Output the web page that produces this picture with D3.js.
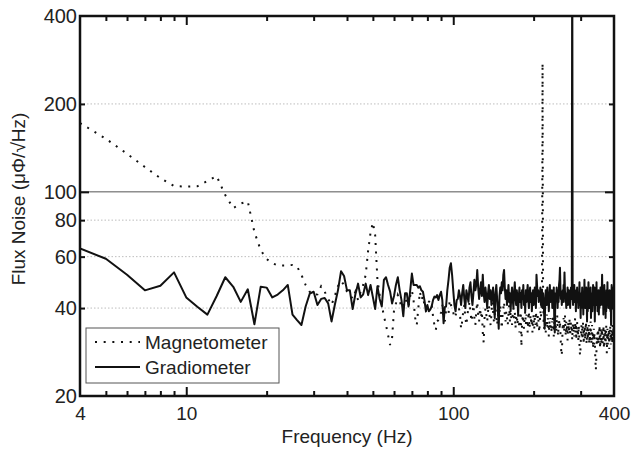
<!DOCTYPE html>
<html><head><meta charset="utf-8">
<script src="https://cdn.jsdelivr.net/npm/d3@7"></script>
<style>body{margin:0;background:#fff}svg{display:block}text{font-family:"Liberation Sans",Arial,sans-serif;fill:#222}</style>
</head><body><div id="chart"></div>
<script>
// frequency grid (Hz), 1 Hz resolution
const freqs = d3.range(4, 401);
// Magnetometer flux noise (μΦ/√Hz), one value per frequency 4..400
const magnetometer = [
172,152,135,121.6,111.4,104.7,104.2,104.5,108.9,113.2,
97.5,88,91.2,92.7,72.8,63.2,58.9,57,56,56,
56,56.2,55.5,52,48,45.5,44.3,44.6,47.5,45.5,
43,41,44,47.5,49.5,48,45.5,44.6,43,45.5,
42.6,45.5,48,52,63,72.5,78.5,71,50,44.6,
41,37.5,35,32.3,29.9,31.6,39.4,41.5,44.3,42.6,
40,41,43,42,40.5,44,46,42.6,37,35,
40,45.5,42.6,44,41,39.4,40.5,42,42.6,41,
37.5,35,33.6,36,36.4,37,38.7,41,37,36,
39.4,39,38.3,42.6,41,40,38.7,37,37.8,38.7,
39.4,
40,38,34,36,39,41,37,35,38,40,
42,39,36,38,41,37,35,39,42,38,
36,40,37,39,33,30.5,37,40,38,36,
39,41,37,35,38,42,39,36,38,40,
37,35,38,36,39,41,37,34,38,40,
42,38,36,39,37,35,38,41,36,39,
37,35,38,40,36,39,34,37,38,35,
38,36,33,37,39,29.5,35,38,36,34,
37,39,35,38,36,33,37,39,34,36,
38,35,37,33,36,38,34,37,35,39,
36,34,37,38,35,33,36,39,37,40,
48,276,45,36,34,37,35,33,36,38,
34,37,35,32,36,34,37,35,33,36,
34,38,35,32,36,34,37,35,33,36,
38,34,32,35,37,34,36,33,30,28,
27.5,31,35,34,37,33,35,38,34,32,
36,33,35,31,34,36,33,35,37,32,
34,36,33,35,31,34,36,33,35,32,
34,37,33,35,31,34,36,32,34,31,
35,33,30,28,27.5,30,33,35,32,34,
31,36,33,30,34,32,35,31,34,36,
32,30,33,35,31,34,32,35,30,33,
31,34,36,32,30,33,35,31,33,29,
32,34,30,33,31,28,26,24.5,26,29,
32,30,33,31,34,32,30,33,35,31,
29,32,34,30,33,31,34,32,30,33,
35,31,29,32,34,31,33,30,32,35,
31,28,32,34,30,33,31,34,32,29,
33,31,35,32,30,33,31,34,32,30,
35,33,31,34,32,36
];
// Gradiometer flux noise (μΦ/√Hz), one value per frequency 4..400
const gradiometer = [
64,59,52,46,47.7,53,43.5,40.4,38,44,
51,47.3,42,46.4,35.2,47.3,47,43.5,44.5,46,
48,38,36.4,35,40.5,44.8,45.5,41,43,43.3,
41.5,36,41,46,53.5,51.5,46,46,39.7,44.6,
48.5,43.5,44.6,48.5,44.3,48,43.6,39.7,47.5,43,
40.5,50,51,48,45.6,41.5,44,48,51,46,
42.6,37.5,45,45,40.5,46,52.5,48,48,48,
47,47.5,46,45.5,42.6,39,41,39,39.5,40.5,
42.6,43.8,43.5,44.3,42.6,44.3,45.5,42.6,35.5,40.3,
40.5,46,50,55,57,52,46,41,39,42.6,
43,
46,44,41,45,48,43,40,46,44,42,
47,49,44,41,45,50,46,48,54,47,
43,46,49,44,52,45,42,47,44,40,
45,48,43,46,41,44,47,42,37,45,
48,43,39,34,44,47,45,49,46,52,
54,47,43,46,41,44,48,42,45,39,
44,47,43,40,45,49,44,41,46,43,
38,44,47,42,45,40,46,43,48,41,
44,39,46,42,45,48,43,40,44,47,
42,45,39,44,46,41,44,47,43,40,
52,48,44,46,42,45,43,47,41,44,
46,40,45,42,38,34,42,46,44,41,
47,43,45,39,44,48,42,45,43,46,
40,44,41,47,36,33,41,45,43,47,
44,40,46,42,48,50,55,47,43,45,
41,44,46,42,48,45,53,46,42,44,
40,45,43,47,41,44,46,42,45,40,
44,47,43,45,1000,44,41,46,43,48,
42,45,44,39,46,43,47,42,44,40,
45,43,49,41,44,37,45,40,43,47,
41,44,38,45,42,50,43,40,45,42,
47,44,36,45,39,43,49,42,44,40,
45,43,47,37,44,42,45,39,43,48,
41,44,42,47,36,44,43,46,41,49,
42,44,39,45,43,46,38,44,40,45,
43,47,41,44,42,46,52,44,41,45,
38,44,40,48,43,41,45,37,44,39,
46,43,41,49,42,44,40,45,43,41,
46,42,44,39,43,35,42,48,41,44,
43,40,47,42,44,43
];
const xMinorTicks = [5,6,7,8,9,20,30,40,50,60,70,80,90,200,300];
const xMajorTicks = [10,100];
const xTickLabels = [4,10,100,400];
const yMinorTicks = [40,60,80,200];
const yMajorTicks = [100];
const yTickLabels = [20,40,60,80,100,200,400];
const dottedGrid = [40,60,80,200];
const solidGrid = [100];
const seriesNames = ["Magnetometer","Gradiometer"];

const W = 631, H = 450;
const L = 80, R = 614, T = 16, B = 396;
const svg = d3.select("#chart").append("svg").attr("width", W).attr("height", H);
const x = d3.scaleLog().domain([4,400]).range([L,R]);
const y = d3.scaleLog().domain([20,400]).range([B,T]);

svg.append("clipPath").attr("id","clip").append("rect")
  .attr("x",L).attr("y",T).attr("width",R-L).attr("height",B-T);

// grid
svg.append("g").selectAll("line").data(dottedGrid).join("line")
  .attr("x1",L).attr("x2",R).attr("y1",d=>y(d)).attr("y2",d=>y(d))
  .attr("stroke","#bdbdbd").attr("stroke-width",1).attr("stroke-dasharray","1.5,2");
svg.append("g").selectAll("line").data(solidGrid).join("line")
  .attr("x1",L).attr("x2",R).attr("y1",d=>y(d)).attr("y2",d=>y(d))
  .attr("stroke","#555").attr("stroke-width",1);

const mData = freqs.map((f,i)=>[f,magnetometer[i]]);
const gData = freqs.map((f,i)=>[f,gradiometer[i]]);
const line = d3.line().x(d=>x(d[0])).y(d=>y(d[1]));
const plot = svg.append("g").attr("clip-path","url(#clip)");
plot.append("path").datum(mData).attr("d",line).attr("fill","none")
  .attr("stroke","#111").attr("stroke-width",2).attr("stroke-dasharray","2,6.5");
plot.append("path").datum(gData).attr("d",line).attr("fill","none")
  .attr("stroke","#111").attr("stroke-width",2).attr("stroke-linejoin","round");

// ticks (inward) on all four sides
function tickAxis(axisFn, scale, vals, size, tr){
  const g = svg.append("g").attr("transform",tr)
    .call(axisFn(scale).tickValues(vals).tickSize(size).tickFormat(""));
  g.select(".domain").remove();
  g.selectAll(".tick line").attr("stroke","#111").attr("stroke-width",2);
}
tickAxis(d3.axisBottom, x, xMinorTicks, -5, `translate(0,${B})`);
tickAxis(d3.axisBottom, x, xMajorTicks, -9, `translate(0,${B})`);
tickAxis(d3.axisTop, x, xMinorTicks, -5, `translate(0,${T})`);
tickAxis(d3.axisTop, x, xMajorTicks, -9, `translate(0,${T})`);
tickAxis(d3.axisLeft, y, yMinorTicks, -5, `translate(${L},0)`);
tickAxis(d3.axisLeft, y, yMajorTicks, -9, `translate(${L},0)`);
tickAxis(d3.axisRight, y, yMinorTicks, -5, `translate(${R},0)`);
tickAxis(d3.axisRight, y, yMajorTicks, -9, `translate(${R},0)`);

// labels
const xl = svg.append("g").attr("transform",`translate(0,${B})`)
  .call(d3.axisBottom(x).tickValues(xTickLabels).tickFormat(d3.format("d")).tickSize(0).tickPadding(11));
xl.select(".domain").remove();
xl.selectAll("text").attr("font-size",19).attr("font-family","Liberation Sans, Arial, sans-serif").attr("fill","#222");
const yl = svg.append("g").attr("transform",`translate(${L},0)`)
  .call(d3.axisLeft(y).tickValues(yTickLabels).tickFormat(d3.format("d")).tickSize(0).tickPadding(3));
yl.select(".domain").remove();
yl.selectAll("text").attr("font-size",20).attr("font-family","Liberation Sans, Arial, sans-serif").attr("fill","#222");

// frame
svg.append("rect").attr("x",L).attr("y",T).attr("width",R-L).attr("height",B-T)
  .attr("fill","none").attr("stroke","#111").attr("stroke-width",2.5);

svg.append("text").attr("x",(L+R)/2).attr("y",443).attr("text-anchor","middle")
  .attr("font-size",19).text("Frequency (Hz)");
svg.append("text").attr("transform","translate(25,199) rotate(-90)").attr("text-anchor","middle")
  .attr("font-size",19).text("Flux Noise (μΦ/√Hz)");

// legend
const lg = svg.append("g");
lg.append("rect").attr("x",86).attr("y",328).attr("width",193).attr("height",55)
  .attr("fill","#fff").attr("stroke","#555").attr("stroke-width",1);
const rows = [{name:seriesNames[0],dash:"2,6.67",yy:342},{name:seriesNames[1],dash:null,yy:367}];
rows.forEach(r=>{
  lg.append("line").attr("x1",95).attr("x2",140).attr("y1",r.yy).attr("y2",r.yy)
    .attr("stroke","#111").attr("stroke-width",2).attr("stroke-dasharray",r.dash);
  lg.append("text").attr("x",145).attr("y",r.yy).attr("dy","0.35em").attr("font-size",19).text(r.name);
});
</script></body></html>
